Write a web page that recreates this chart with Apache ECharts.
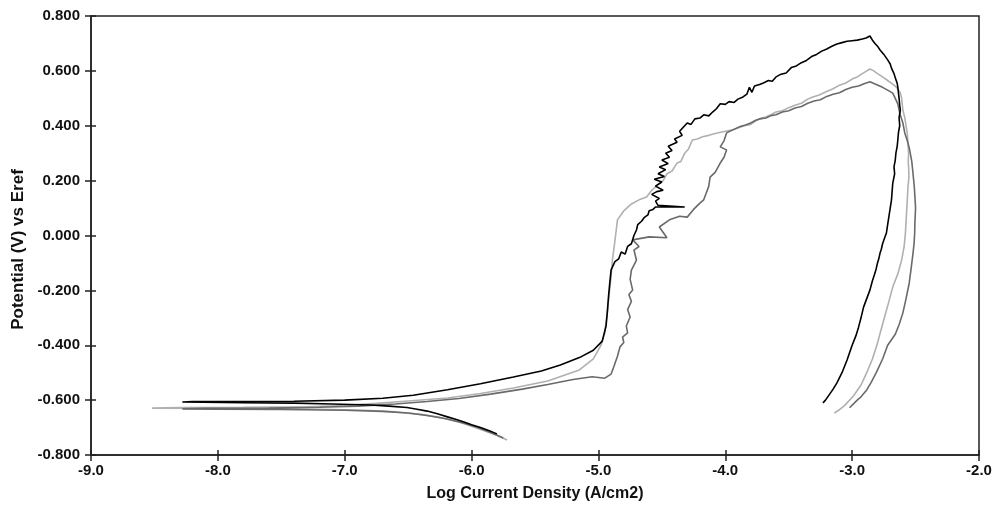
<!DOCTYPE html>
<html>
<head>
<meta charset="utf-8">
<script src="https://cdn.jsdelivr.net/npm/echarts@6/dist/echarts.min.js"></script>
<style>
html,body{margin:0;padding:0;background:#fff;}
#chart{width:1003px;height:513px;}
</style>
</head>
<body>
<div id="chart"></div>
<script>
// Axis settings (tick labels are generated from these)
const xMin = -9, xMax = -2, xStep = 1;
const yMin = -0.8, yMax = 0.8, yStep = 0.2;
const xTitle = 'Log Current Density (A/cm2)';
const yTitle = 'Potential (V) vs Eref';

// ---- Black curve: [log i, E] in scan order ----
const blackCathodic = [[-5.80,-0.723],[-5.86,-0.712],[-5.93,-0.700],[-6.00,-0.690],[-6.06,-0.680],[-6.12,-0.671],[-6.19,-0.661],[-6.27,-0.650],[-6.35,-0.640],[-6.43,-0.633],[-6.51,-0.627],[-6.65,-0.622],[-6.80,-0.618],[-7.10,-0.614],[-7.40,-0.611],[-7.80,-0.609],[-8.28,-0.607]];
const blackAnodic = [[-8.20,-0.605],[-7.80,-0.605],[-7.40,-0.604],[-7.00,-0.600],[-6.70,-0.593],[-6.46,-0.582],[-6.19,-0.562],[-5.93,-0.540],[-5.67,-0.516],[-5.45,-0.494],[-5.30,-0.472],[-5.15,-0.445],[-5.04,-0.418],[-4.97,-0.385],[-4.94,-0.330],[-4.93,-0.280],[-4.92,-0.220],[-4.91,-0.170],[-4.90,-0.125],
  [-4.87,-0.095],[-4.84,-0.085],[-4.82,-0.060],[-4.79,-0.068],[-4.77,-0.040],[-4.74,-0.030],[-4.72,0.000],[-4.70,0.020],[-4.69,0.040],[-4.66,0.052],[-4.64,0.065],[-4.61,0.075],[-4.60,0.090],[-4.57,0.095],[-4.55,0.104],[-4.32,0.104],[-4.53,0.110],[-4.55,0.125],[-4.52,0.135],[-4.58,0.150],[-4.54,0.160],[-4.49,0.165],[-4.55,0.180],[-4.50,0.195],[-4.56,0.205],[-4.48,0.215],[-4.53,0.225],[-4.47,0.240],[-4.52,0.250],[-4.45,0.262],[-4.50,0.275],[-4.44,0.285],[-4.47,0.300],[-4.42,0.310],[-4.45,0.325],[-4.38,0.340],[-4.40,0.352],[-4.34,0.365],[-4.36,0.380],[-4.30,0.410],
  [-4.27,0.405],[-4.24,0.425],[-4.20,0.428],[-4.17,0.440],[-4.13,0.436],[-4.10,0.450],[-4.07,0.462],[-4.04,0.480],[-4.00,0.478],[-3.97,0.488],[-3.93,0.485],[-3.90,0.497],[-3.86,0.505],[-3.83,0.515],[-3.81,0.540],[-3.79,0.522],[-3.77,0.545],[-3.73,0.550],[-3.70,0.556],[-3.66,0.565],[-3.63,0.562],[-3.60,0.578],[-3.56,0.588],[-3.52,0.592],[-3.48,0.612],[-3.44,0.618],[-3.40,0.630],[-3.36,0.638],[-3.32,0.652],[-3.28,0.660],[-3.24,0.672],[-3.20,0.680],[-3.16,0.690],[-3.12,0.698],[-3.08,0.703],[-3.04,0.708],[-3.00,0.710],[-2.96,0.712],[-2.92,0.716],[-2.89,0.720],[-2.86,0.727]];
const blackReverse = [[-2.84,0.712],[-2.82,0.700],[-2.80,0.690],[-2.78,0.676],[-2.75,0.660],[-2.72,0.640],[-2.70,0.625],[-2.69,0.610],[-2.67,0.590],[-2.66,0.575],[-2.645,0.555],[-2.64,0.541],[-2.635,0.520],[-2.63,0.500],[-2.625,0.475],[-2.62,0.457],[-2.63,0.430],[-2.625,0.400],[-2.635,0.375],[-2.64,0.348],[-2.645,0.325],[-2.655,0.300],[-2.66,0.275],[-2.67,0.250],[-2.665,0.225],[-2.68,0.190],[-2.685,0.160],[-2.69,0.129],[-2.70,0.100],[-2.71,0.070],[-2.72,0.040],[-2.73,0.009],[-2.745,-0.010],[-2.76,-0.030],[-2.77,-0.050],[-2.78,-0.064],[-2.79,-0.085],[-2.80,-0.100],[-2.81,-0.120],[-2.82,-0.137],[-2.84,-0.165],[-2.86,-0.199],[-2.885,-0.230],[-2.91,-0.261],[-2.93,-0.300],[-2.95,-0.335],[-2.97,-0.365],[-3.00,-0.400],[-3.04,-0.454],[-3.08,-0.500],[-3.12,-0.537],[-3.15,-0.560],[-3.18,-0.580],[-3.21,-0.600],[-3.23,-0.610]];

// ---- Light grey curve ----
const lightCathodic = [[-5.72,-0.745],[-5.80,-0.728],[-5.90,-0.712],[-6.00,-0.695],[-6.10,-0.680],[-6.25,-0.663],[-6.40,-0.652],[-6.60,-0.643],[-6.80,-0.638],[-7.00,-0.635],[-7.40,-0.632],[-7.90,-0.630],[-8.52,-0.629]];
const lightAnodic = [[-8.30,-0.627],[-7.80,-0.626],[-7.30,-0.624],[-7.00,-0.620],[-6.75,-0.612],[-6.50,-0.603],[-6.19,-0.592],[-5.93,-0.576],[-5.67,-0.556],[-5.40,-0.530],[-5.15,-0.490],[-5.04,-0.450],[-4.98,-0.400],[-4.95,-0.355],[-4.93,-0.280],[-4.92,-0.235],[-4.90,-0.150],[-4.89,-0.090],[-4.87,-0.020],[-4.85,0.057],[-4.80,0.090],[-4.74,0.115],[-4.68,0.130],[-4.62,0.140],[-4.58,0.165],[-4.52,0.190],[-4.49,0.200],[-4.46,0.225],[-4.42,0.235],[-4.38,0.264],[-4.35,0.270],[-4.32,0.300],[-4.29,0.315],[-4.26,0.348],[-4.22,0.352],[-4.18,0.360],[-4.13,0.365],[-4.08,0.372],[-4.02,0.378],[-3.94,0.385],
  [-3.90,0.392],[-3.85,0.400],[-3.80,0.405],[-3.76,0.418],[-3.73,0.425],[-3.68,0.432],[-3.64,0.440],[-3.60,0.450],[-3.55,0.455],[-3.50,0.466],[-3.45,0.475],[-3.40,0.482],[-3.35,0.497],[-3.31,0.505],[-3.26,0.512],[-3.21,0.523],[-3.15,0.535],[-3.10,0.548],[-3.05,0.556],[-3.00,0.570],[-2.96,0.578],[-2.92,0.590],[-2.89,0.598],[-2.86,0.607]];
const lightReverse = [[-2.83,0.600],[-2.80,0.590],[-2.76,0.578],[-2.72,0.565],[-2.68,0.552],[-2.65,0.540],[-2.62,0.520],[-2.61,0.500],[-2.605,0.478],[-2.60,0.457],[-2.585,0.430],[-2.575,0.400],[-2.565,0.370],[-2.56,0.337],[-2.555,0.300],[-2.558,0.270],[-2.555,0.250],[-2.552,0.215],[-2.56,0.177],[-2.565,0.130],[-2.57,0.090],[-2.575,0.050],[-2.58,0.009],[-2.59,-0.040],[-2.61,-0.090],[-2.64,-0.140],[-2.68,-0.188],[-2.71,-0.240],[-2.74,-0.290],[-2.77,-0.340],[-2.80,-0.392],[-2.84,-0.450],[-2.885,-0.500],[-2.93,-0.545],[-2.99,-0.585],[-3.06,-0.620],[-3.10,-0.635],[-3.14,-0.647]];

// ---- Dark grey curve ----
const darkCathodic = [[-5.75,-0.738],[-5.85,-0.718],[-5.95,-0.700],[-6.05,-0.685],[-6.20,-0.668],[-6.35,-0.656],[-6.50,-0.647],[-6.70,-0.641],[-7.00,-0.637],[-7.50,-0.634],[-8.00,-0.633],[-8.28,-0.632]];
const darkAnodic = [[-8.10,-0.630],[-7.60,-0.629],[-7.20,-0.626],[-6.90,-0.622],[-6.60,-0.614],[-6.35,-0.605],[-6.10,-0.594],[-5.85,-0.578],[-5.60,-0.560],[-5.40,-0.543],[-5.20,-0.525],[-5.05,-0.515],[-4.95,-0.520],[-4.90,-0.505],[-4.88,-0.480],[-4.85,-0.440],[-4.83,-0.406],[-4.80,-0.390],[-4.81,-0.370],[-4.77,-0.355],[-4.78,-0.330],[-4.75,-0.297],[-4.77,-0.270],[-4.74,-0.240],[-4.76,-0.215],[-4.73,-0.199],[-4.75,-0.160],[-4.74,-0.126],[-4.70,-0.090],[-4.72,-0.053],[-4.68,-0.040],[-4.73,-0.016],[-4.60,-0.005],[-4.46,-0.008],[-4.52,0.031],[-4.44,0.057],[-4.36,0.070],[-4.30,0.067],[-4.25,0.095],[-4.20,0.118],[-4.17,0.130],[-4.15,0.155],[-4.13,0.180],[-4.12,0.213],[-4.08,0.230],[-4.04,0.264],[-4.01,0.285],[-3.99,0.312],[-4.04,0.323],[-4.01,0.345],[-3.99,0.374],[-3.94,0.385],[-3.89,0.396],
  [-3.84,0.403],[-3.80,0.410],[-3.76,0.420],[-3.73,0.425],[-3.68,0.428],[-3.64,0.437],[-3.60,0.440],[-3.55,0.450],[-3.50,0.455],[-3.45,0.465],[-3.40,0.470],[-3.35,0.482],[-3.30,0.490],[-3.25,0.495],[-3.20,0.507],[-3.15,0.515],[-3.10,0.520],[-3.05,0.532],[-3.00,0.540],[-2.95,0.545],[-2.90,0.554],[-2.86,0.560]];
const darkReverse = [[-2.81,0.550],[-2.76,0.540],[-2.72,0.530],[-2.68,0.519],[-2.66,0.500],[-2.64,0.480],[-2.625,0.446],[-2.60,0.410],[-2.585,0.374],[-2.565,0.345],[-2.55,0.320],[-2.53,0.270],[-2.52,0.225],[-2.51,0.177],[-2.505,0.140],[-2.50,0.100],[-2.505,0.050],[-2.507,0.009],[-2.512,-0.030],[-2.52,-0.064],[-2.535,-0.120],[-2.55,-0.173],[-2.575,-0.230],[-2.60,-0.282],[-2.63,-0.325],[-2.66,-0.360],[-2.69,-0.380],[-2.72,-0.400],[-2.76,-0.450],[-2.81,-0.500],[-2.85,-0.535],[-2.885,-0.563],[-2.93,-0.588],[-2.96,-0.600],[-3.02,-0.628]];

const FONT = "'Liberation Sans', Arial, sans-serif";
const chart = echarts.init(document.getElementById('chart'), null, {renderer: 'canvas'});

function curve(name, color, width, parts) {
  return {
    name: name, type: 'line', xAxisIndex: 0, yAxisIndex: 0,
    data: [].concat(...parts), showSymbol: false, symbol: 'none',
    lineStyle: {color: color, width: width}, itemStyle: {color: color},
    animation: false, silent: true, z: 3
  };
}

const labelStyle = {color: '#111', fontFamily: FONT, fontWeight: 'bold', fontSize: 15};
const xTitleStyle = {color: '#111', fontFamily: FONT, fontWeight: 'bold', fontSize: 16};
const yTitleStyle = {color: '#111', fontFamily: FONT, fontWeight: 'bold', fontSize: 17, padding: [0, 28, 0, 0]};

chart.setOption({
  backgroundColor: '#fff',
  animation: false,
  grid: {left: 91, right: 24, top: 16, bottom: 58, show: true, borderColor: '#222', borderWidth: 1.5, backgroundColor: 'transparent'},
  xAxis: [{
    type: 'value', min: xMin, max: xMax, interval: xStep,
    name: xTitle, nameLocation: 'middle', nameGap: 31, nameTextStyle: xTitleStyle,
    axisLine: {show: true, onZero: false, lineStyle: {color: '#222', width: 1.5}},
    axisTick: {show: true, inside: false, length: 6, lineStyle: {color: '#222', width: 1.5}},
    axisLabel: Object.assign({margin: 8, formatter: v => v.toFixed(1)}, labelStyle),
    splitLine: {show: false}
  }, {
    type: 'value', min: xMin, max: xMax, interval: xStep, position: 'bottom',
    axisLine: {show: false, onZero: false}, axisLabel: {show: false}, splitLine: {show: false},
    axisTick: {show: true, inside: true, length: 5, lineStyle: {color: '#222', width: 1.5}}
  }],
  yAxis: [{
    type: 'value', min: yMin, max: yMax, interval: yStep,
    name: yTitle, nameLocation: 'middle', nameGap: 58, nameTextStyle: yTitleStyle,
    axisLine: {show: true, onZero: false, lineStyle: {color: '#222', width: 1.5}},
    axisTick: {show: true, inside: false, length: 6, lineStyle: {color: '#222', width: 1.5}},
    axisLabel: Object.assign({margin: 11, formatter: v => v.toFixed(3)}, labelStyle),
    splitLine: {show: false}
  }, {
    type: 'value', min: yMin, max: yMax, interval: yStep, position: 'left',
    axisLine: {show: false, onZero: false}, axisLabel: {show: false}, splitLine: {show: false},
    axisTick: {show: true, inside: true, length: 5, lineStyle: {color: '#222', width: 1.5}}
  }],
  series: [
    curve('Light grey', '#b0b0b0', 1.6, [lightCathodic, lightAnodic, lightReverse]),
    curve('Dark grey', '#6a6a6a', 1.6, [darkCathodic, darkAnodic, darkReverse]),
    curve('Black', '#000000', 1.6, [blackCathodic, blackAnodic, blackReverse])
  ]
});
</script>
</body>
</html>
